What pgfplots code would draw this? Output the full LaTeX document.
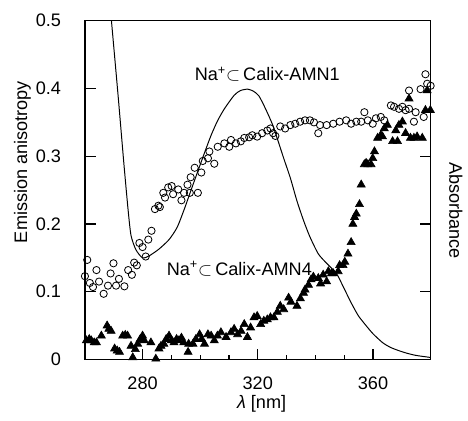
\documentclass[border=0pt]{standalone}
\usepackage{fontspec}
\setmainfont{Liberation Sans}
\usepackage{pgfplots}
\pgfplotsset{compat=1.18}

% emission anisotropy, Na+ in Calix-AMN1 (open circles)
\pgfplotstableread{
x y
260.0 0.123
260.8 0.147
261.7 0.113
262.8 0.107
264.0 0.132
264.9 0.115
266.5 0.097
268.0 0.109
268.9 0.127
269.9 0.142
270.8 0.109
271.8 0.119
273.7 0.108
275.0 0.132
276.3 0.125
277.1 0.143
278.0 0.139
278.9 0.172
280.0 0.166
281.1 0.152
282.0 0.177
283.1 0.190
284.3 0.222
285.5 0.227
286.0 0.225
287.2 0.246
287.8 0.239
288.9 0.254
290.1 0.256
290.6 0.244
292.4 0.251
293.5 0.235
294.4 0.246
295.6 0.258
296.4 0.246
296.7 0.269
298.1 0.283
299.2 0.246
300.4 0.276
300.9 0.293
302.7 0.297
303.2 0.307
304.9 0.289
306.1 0.314
308.4 0.319
310.1 0.314
310.7 0.324
312.4 0.319
314.1 0.322
315.3 0.327
317.0 0.328
318.1 0.331
319.8 0.329
321.5 0.334
323.3 0.338
324.4 0.341
325.3 0.334
326.1 0.330
327.8 0.344
329.5 0.341
331.3 0.346
333.0 0.348
334.7 0.351
336.4 0.353
338.1 0.353
339.5 0.350
341.0 0.334
341.6 0.346
343.9 0.346
346.2 0.348
348.4 0.351
350.7 0.353
352.4 0.348
354.2 0.351
355.9 0.351
357.0 0.365
358.2 0.353
359.9 0.348
361.0 0.356
362.7 0.358
363.9 0.353
366.2 0.375
367.3 0.373
369.0 0.370
370.2 0.373
371.3 0.368
372.5 0.370
372.5 0.397
374.2 0.351
374.8 0.365
376.5 0.399
377.6 0.358
378.2 0.421
378.8 0.407
380.0 0.404
}\amnone

% emission anisotropy, Na+ in Calix-AMN4 (filled triangles)
\pgfplotstableread{
x y
260.5 0.028
261.5 0.030
262.2 0.028
263.2 0.025
264.0 0.025
265.7 0.035
267.7 0.050
268.3 0.045
269.1 0.042
270.3 0.016
271.2 0.013
272.0 0.011
273.1 0.035
274.0 0.036
274.8 0.035
276.0 0.020
276.6 0.003
277.5 0.015
278.3 0.023
279.2 0.030
280.0 0.035
280.6 0.028
282.9 0.025
284.6 0.001
285.7 0.016
286.4 0.020
287.4 0.023
288.2 0.030
289.2 0.035
290.0 0.028
290.9 0.025
291.8 0.030
292.6 0.028
293.5 0.032
294.3 0.025
295.8 0.011
296.0 0.023
297.5 0.023
298.5 0.030
299.8 0.037
300.5 0.030
301.5 0.023
302.7 0.037
303.8 0.035
304.9 0.028
306.0 0.035
307.2 0.040
309.0 0.033
310.7 0.040
311.8 0.045
313.0 0.037
314.2 0.042
315.3 0.052
316.4 0.033
317.5 0.047
318.7 0.062
319.8 0.064
321.0 0.052
322.1 0.057
323.3 0.059
324.4 0.062
325.6 0.062
326.8 0.070
327.8 0.079
329.0 0.074
330.7 0.091
331.5 0.085
333.6 0.079
334.8 0.090
335.9 0.098
336.4 0.103
337.6 0.110
338.5 0.118
339.3 0.122
341.0 0.120
341.8 0.112
342.7 0.125
343.9 0.115
344.5 0.130
345.6 0.127
346.2 0.127
347.9 0.130
348.4 0.139
349.6 0.139
350.2 0.144
351.3 0.156
352.4 0.173
353.0 0.200
353.6 0.210
354.2 0.215
355.3 0.229
355.9 0.258
357.0 0.288
357.6 0.290
358.2 0.288
359.3 0.288
359.9 0.297
360.5 0.307
361.6 0.327
362.7 0.331
363.3 0.329
363.9 0.341
365.0 0.346
366.8 0.322
367.9 0.338
368.5 0.322
369.0 0.346
370.2 0.351
371.3 0.334
372.5 0.385
373.0 0.327
374.2 0.327
375.3 0.329
377.1 0.327
378.2 0.368
378.8 0.397
379.9 0.368
}\amnfour

% absorbance (arbitrary scale, drawn on the left axis units)
\pgfplotstableread{
x y
268.6 0.530
269.2 0.500
271.5 0.390
273.5 0.290
275.0 0.220
276.0 0.183
277.7 0.162
280.0 0.150
282.3 0.153
285.7 0.163
289.2 0.177
292.0 0.195
294.5 0.222
297.0 0.252
299.2 0.278
301.5 0.305
303.8 0.331
306.0 0.352
308.4 0.370
311.8 0.390
314.0 0.397
316.5 0.399
318.5 0.396
320.4 0.389
322.7 0.370
325.0 0.348
326.7 0.327
329.0 0.297
331.3 0.268
333.6 0.234
335.9 0.205
338.1 0.181
341.0 0.156
343.9 0.142
347.3 0.127
349.6 0.108
351.9 0.088
353.0 0.079
355.0 0.064
357.6 0.050
360.0 0.038
363.3 0.025
366.0 0.018
369.0 0.013
372.0 0.009
375.0 0.006
380.0 0.003
}\absorb

\begin{document}
\begin{tikzpicture}
\begin{axis}[
  scale only axis, width=210pt, height=205.8pt,
  xmin=260, xmax=380, ymin=0, ymax=0.5,
  xtick={280,320,360}, minor x tick num=3,
  ytick={0,0.1,0.2,0.3,0.4,0.5},
  tick align=inside,
  major tick length=6.6pt, minor tick length=3pt,
  xtick pos=bottom, ytick pos=left,
  axis line style={draw=black, line width=0.9pt},
  tick style={draw=black, line width=0.7pt},
  tick label style={font=\fontsize{11}{13}\selectfont},
  /pgf/number format/assume math mode=true,
  xticklabel style={yshift=-7pt},
  yticklabel style={xshift=-11pt},
  label style={font=\fontsize{11}{13}\selectfont},
  xlabel={{\itshape λ} [nm]},
  xlabel style={at={(axis description cs:0.511,-0.13)}, anchor=center},
  ylabel={Emission anisotropy},
  ylabel style={at={(axis description cs:-0.181,0.583)}, anchor=center},
]
\addplot[black, line width=0.6pt, smooth, tension=0.4] table {\absorb};
\addplot[only marks, mark=o, mark size=2.2pt, mark options={line width=0.5pt, black}] table {\amnone};
\addplot[only marks, mark=triangle*, mark size=2.8pt, black] table {\amnfour};
\node[font=\fontsize{11}{13}\selectfont] at (axis cs:323.3,0.421) {Na\textsuperscript{+}$\subset$\,Calix-AMN1};
\node[font=\fontsize{11}{13}\selectfont] at (axis cs:313.6,0.134) {Na\textsuperscript{+}$\subset$\,Calix-AMN4};
\coordinate (ll) at (rel axis cs:0,0);
\coordinate (ur) at (rel axis cs:1,1);
\end{axis}
\begin{axis}[
  scale only axis, width=210pt, height=205.8pt,
  xmin=260, xmax=380, ymin=0, ymax=0.5,
  axis x line=none, axis y line*=right,
  ytick={0.1,0.2,0.3}, yticklabels={},
  tick align=inside, major tick length=6.6pt,
  axis line style={draw=black, line width=0.9pt},
  tick style={draw=black, line width=0.7pt},
  label style={font=\fontsize{11}{13}\selectfont},
  ylabel={Absorbance},
  ylabel style={at={(axis description cs:1.073,0.44)}, anchor=center, rotate=180},
]
\end{axis}
\path ([xshift=-51.6pt,yshift=-37.2pt]ll) rectangle ([xshift=19.2pt,yshift=12.6pt]ur);
\end{tikzpicture}
\end{document}
